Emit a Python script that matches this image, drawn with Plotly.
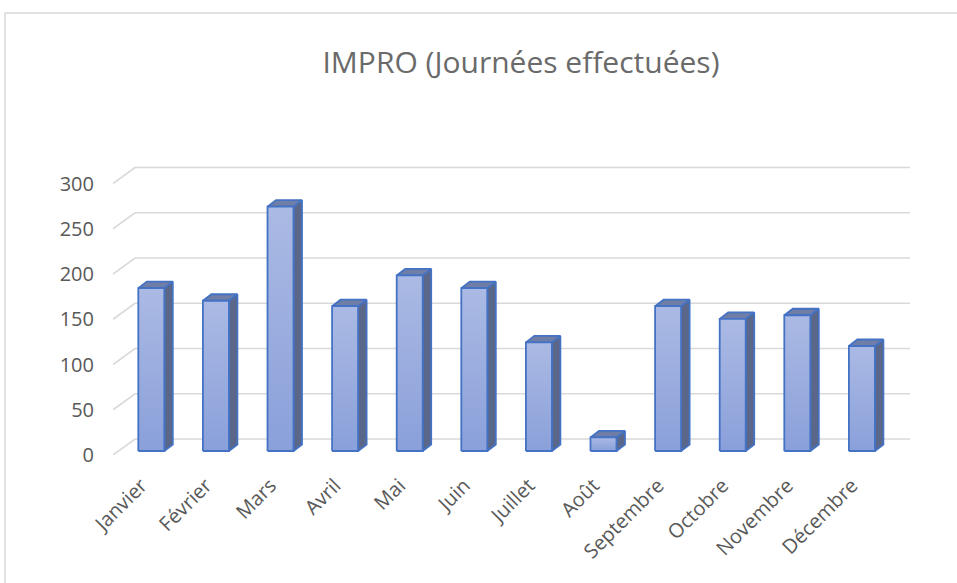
"""
IMPRO - journées effectuées par mois (colonnes 3D façon Excel).
"""
import plotly.graph_objects as go

months = ["Janvier", "Février", "Mars", "Avril", "Mai", "Juin",
          "Juillet", "Août", "Septembre", "Octobre", "Novembre", "Décembre"]
days = [180, 166, 270, 160, 194, 180, 120, 15, 160, 146, 150, 116]
y_ticks = [0, 50, 100, 150, 200, 250, 300]

# page / plot geometry (pixels)
W, H = 957, 583
ML, MR, MT, MB = 113, 47, 150, 128
plot_w = W - ML - MR
plot_h = H - MT - MB
PX_CAT = 64.6      # pixels per category on the front floor
PX_VAL = 0.905     # pixels per unit of value


def ux(p):
    return p / PX_CAT


def uy(p):
    return p / PX_VAL


x_range = [-0.5, -0.5 + plot_w / PX_CAT]
y_range = [0, plot_h / PX_VAL]

# fake 3D depths
wall_dx, wall_dy = ux(22), uy(16)      # back wall offset
face_dx, face_dy = ux(6), uy(4)        # bar front face offset from floor edge
bar_w = ux(26)
depth_dx, depth_dy = ux(8.5), uy(6.5)  # bar thickness

GRID = "#d9d9d9"
EDGE = "#4472c4"
TEXT = "#595959"

fig = go.Figure()

# back wall gridlines + floor/side diagonals
gx, gy = [], []
for v in y_ticks:
    gx += [-0.5, -0.5 + wall_dx, x_range[1], None]
    gy += [v, v + wall_dy, v + wall_dy, None]
fig.add_trace(go.Scatter(
    x=gx, y=gy, mode="lines",
    line=dict(color=GRID, width=1.6),
    hoverinfo="skip", showlegend=False,
))

# side and top faces
sx, sy, tx, ty = [], [], [], []
for i, v in enumerate(days):
    left = i - bar_w / 2 + face_dx
    right = i + bar_w / 2 + face_dx
    bot = face_dy
    top = v + face_dy
    sx += [right, right, right + depth_dx, right + depth_dx, right, None]
    sy += [bot, top, top + depth_dy, bot + depth_dy, bot, None]
    tx += [left, right, right + depth_dx, left + depth_dx, left, None]
    ty += [top, top, top + depth_dy, top + depth_dy, top, None]

fig.add_trace(go.Scatter(
    x=sx, y=sy, mode="lines", fill="toself",
    fillcolor="#5a6788", line=dict(color=EDGE, width=1.8),
    hoverinfo="skip", showlegend=False,
))
fig.add_trace(go.Scatter(
    x=tx, y=ty, mode="lines", fill="toself",
    fillcolor="#6e7ea6", line=dict(color=EDGE, width=1.8),
    hoverinfo="skip", showlegend=False,
))

# front faces with their own vertical gradient
for i, v in enumerate(days):
    left = i - bar_w / 2 + face_dx
    right = i + bar_w / 2 + face_dx
    bot = face_dy
    top = v + face_dy
    fig.add_trace(go.Scatter(
        x=[left, right, right, left, left],
        y=[bot, bot, top, top, bot],
        mode="lines", fill="toself",
        fillcolor="#9db0e0",
        fillgradient=dict(type="vertical",
                          colorscale=[[0, "#8aa0da"], [1, "#abbae4"]]),
        line=dict(color=EDGE, width=1.8),
        name=months[i],
        hovertemplate=f"<b>{months[i]}</b><br>{v} journées<extra></extra>",
        showlegend=False,
    ))

# chart border (paper coordinates derived from pixel geometry)
fig.add_shape(
    type="rect", xref="paper", yref="paper",
    x0=(5 - ML) / plot_w, x1=(1200 - ML) / plot_w,
    y0=(H - 700 - MB) / plot_h, y1=(H - 13 - MB) / plot_h,
    line=dict(color=GRID, width=1.5), layer="below",
)

fig.update_layout(
    width=W, height=H,
    margin=dict(l=ML, r=MR, t=MT, b=MB),
    paper_bgcolor="white", plot_bgcolor="white",
    font=dict(family="Open Sans", color=TEXT),
    title=dict(text="IMPRO (Journées effectuées)",
               x=521 / W, xanchor="center",
               y=1 - 62 / H, yanchor="middle",
               font=dict(size=30, color="#6a6a6a")),
    xaxis=dict(
        range=x_range, tickmode="array",
        tickvals=list(range(len(months))), ticktext=months,
        tickangle=-45, tickfont=dict(size=20, color=TEXT),
        showgrid=False, zeroline=False, showline=False, ticks="",
        ticklabelstandoff=14, ticklabelshift=-4,
    ),
    yaxis=dict(
        range=y_range, tickmode="array", tickvals=y_ticks,
        tickfont=dict(size=20, color=TEXT),
        showgrid=False, zeroline=False, showline=False, ticks="",
        ticklabelstandoff=18,
    ),
    showlegend=False,
)

# drop the browser's default body margin so the figure sits at (0, 0)
fig.write_html("out.html", config={"displayModeBar": False},
               post_script="document.body.style.margin='0';")
